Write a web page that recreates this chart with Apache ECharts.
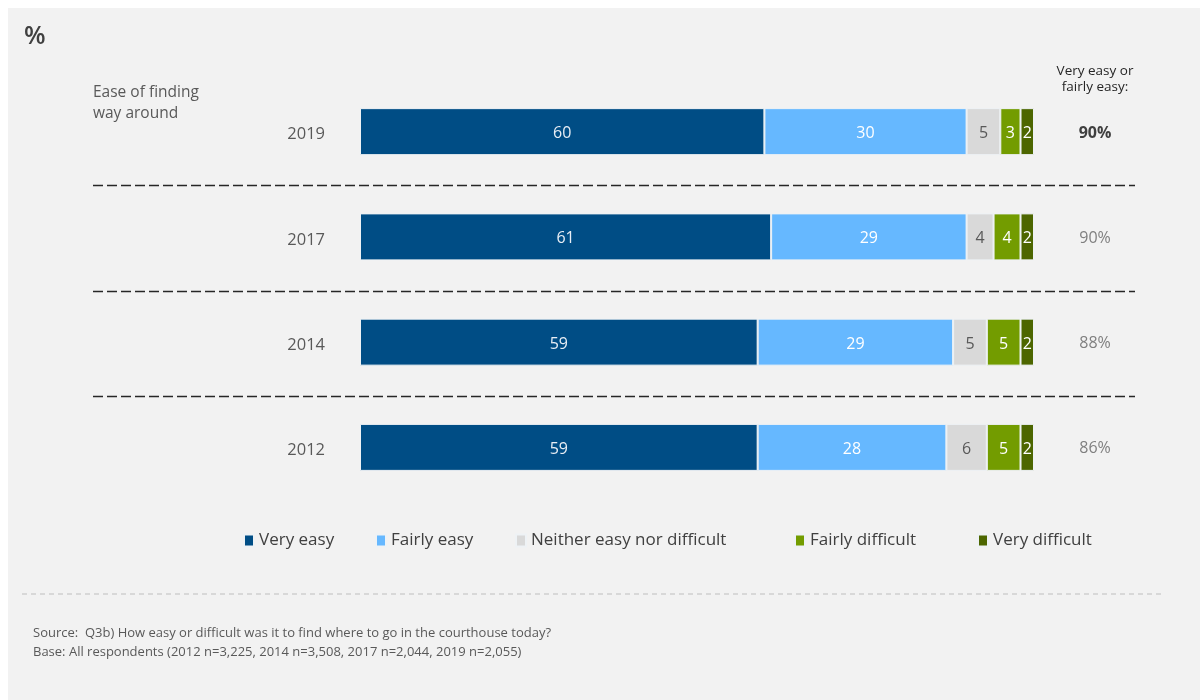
<!DOCTYPE html>
<html>
<head>
<meta charset="utf-8">
<script src="https://cdn.jsdelivr.net/npm/echarts@6/dist/echarts.min.js"></script>
<style>
  html, body { margin: 0; padding: 0; background: #ffffff; }
  #chart { width: 1200px; height: 700px; }
</style>
</head>
<body>
<div id="chart"></div>
<script>
// Survey years, top to bottom
const years = ['2019', '2017', '2014', '2012'];

// Percentage of respondents per answer
const veryEasy = [60, 61, 59, 59];
const fairlyEasy = [30, 29, 29, 28];
const neither = [5, 4, 5, 6];
const fairlyDifficult = [3, 4, 5, 5];
const veryDifficult = [2, 2, 2, 2];

// "Very easy or fairly easy" totals shown on the right
const easyTotals = ['90%', '90%', '88%', '86%'];

const seriesNames = ['Very easy', 'Fairly easy', 'Neither easy nor difficult', 'Fairly difficult', 'Very difficult'];
const seriesData = [veryEasy, fairlyEasy, neither, fairlyDifficult, veryDifficult];
const colors = ['#004d85', '#66b8ff', '#d9d9d9', '#739c00', '#4d6600'];
const labelColors = ['#e8eef5', '#ffffff', '#595959', '#ffffff', '#ffffff'];

const FONT = '"Open Sans", sans-serif';

// One legend per item, each placed along the row
const legendLefts = [243, 375, 515, 794, 977];
const legends = seriesNames.map((name, i) => ({
  data: [name],
  left: legendLefts[i],
  top: 532,
  padding: 0,
  icon: 'rect',
  itemWidth: 10,
  itemHeight: 12,
  selectedMode: false,
  textStyle: { fontFamily: FONT, fontSize: 17, color: '#404040' }
}));

const chart = echarts.init(document.getElementById('chart'));

const option = {
  backgroundColor: '#ffffff',
  animation: false,
  color: colors,
  legend: legends,
  grid: { left: 360, right: 166, top: 79, bottom: 200, containLabel: false },
  xAxis: { type: 'value', min: 0, max: 100, show: false },
  yAxis: [
    {
      type: 'category',
      data: years,
      inverse: true,
      axisLine: { show: false },
      axisTick: { show: false },
      splitLine: { show: false },
      axisLabel: {
        margin: 35,
        formatter: (v) => '{y|' + v + '}',
        rich: { y: { fontFamily: FONT, fontSize: 16.5, color: '#595959', padding: [6, 0, 0, 0] } }
      }
    },
    {
      type: 'category',
      data: easyTotals,
      inverse: true,
      position: 'right',
      axisLine: { show: false },
      axisTick: { show: false },
      splitLine: { show: false },
      axisLabel: {
        margin: 61,
        align: 'center',
        formatter: (v, i) => (i === 0 ? '{b|' + v + '}' : '{n|' + v + '}'),
        rich: {
          b: { fontFamily: FONT, fontSize: 16, fontWeight: 'bold', color: '#404040', padding: [3, 0, 0, 0] },
          n: { fontFamily: FONT, fontSize: 16, color: '#7f7f7f', padding: [3, 0, 0, 0] }
        }
      }
    }
  ],
  series: seriesNames.map((name, i) => ({
    name: name,
    type: 'bar',
    stack: 'total',
    barWidth: 47,
    data: seriesData[i],
    itemStyle: { color: colors[i], borderColor: '#eef2f5', borderWidth: 1 },
    label: {
      show: true,
      position: 'inside',
      offset: [0, 2],
      fontFamily: FONT,
      fontSize: 16,
      color: labelColors[i]
    }
  })),
  graphic: [
    // panel background
    { type: 'rect', z: -10, silent: true, shape: { x: 8, y: 8, width: 1192, height: 692 }, style: { fill: '#f2f2f2' } },
    { type: 'text', left: 24, top: 24, style: { text: '%', fontFamily: FONT, fontSize: 25, fontWeight: 600, fill: '#404040' } },
    { type: 'text', left: 93, top: 82, style: { text: 'Ease of finding\nway around', fontFamily: FONT, fontSize: 15.5, lineHeight: 21, fill: '#595959' } },
    { type: 'text', x: 1095, y: 63, style: { text: 'Very easy or\nfairly easy:', align: 'center', fontFamily: FONT, fontSize: 13.5, lineHeight: 16, fill: '#262626' } },
    // footer rule and notes
    { type: 'line', silent: true, shape: { x1: 22, y1: 594, x2: 1165, y2: 594 }, style: { stroke: '#d0d0d0', lineWidth: 1.5, lineDash: [5, 4] } },
    { type: 'text', left: 33, top: 624, style: { text: 'Source:  Q3b) How easy or difficult was it to find where to go in the courthouse today?\nBase: All respondents (2012 n=3,225, 2014 n=3,508, 2017 n=2,044, 2019 n=2,055)', fontFamily: FONT, fontSize: 13, lineHeight: 19, fill: '#595959' } }
  ]
};

chart.setOption(option);

// Dashed separators between neighbouring year rows, sitting just below the midpoint
const separators = [];
for (let i = 0; i < years.length - 1; i++) {
  const y1 = chart.convertToPixel({ yAxisIndex: 0 }, years[i]);
  const y2 = chart.convertToPixel({ yAxisIndex: 0 }, years[i + 1]);
  const y = Math.round((y1 + y2) / 2 + 1) + 0.5;
  separators.push({
    type: 'line', silent: true,
    shape: { x1: 93, y1: y, x2: 1135, y2: y },
    style: { stroke: '#262626', lineWidth: 1.5, lineDash: [10, 4] }
  });
}
chart.setOption({ graphic: option.graphic.concat(separators) });
</script>
</body>
</html>
